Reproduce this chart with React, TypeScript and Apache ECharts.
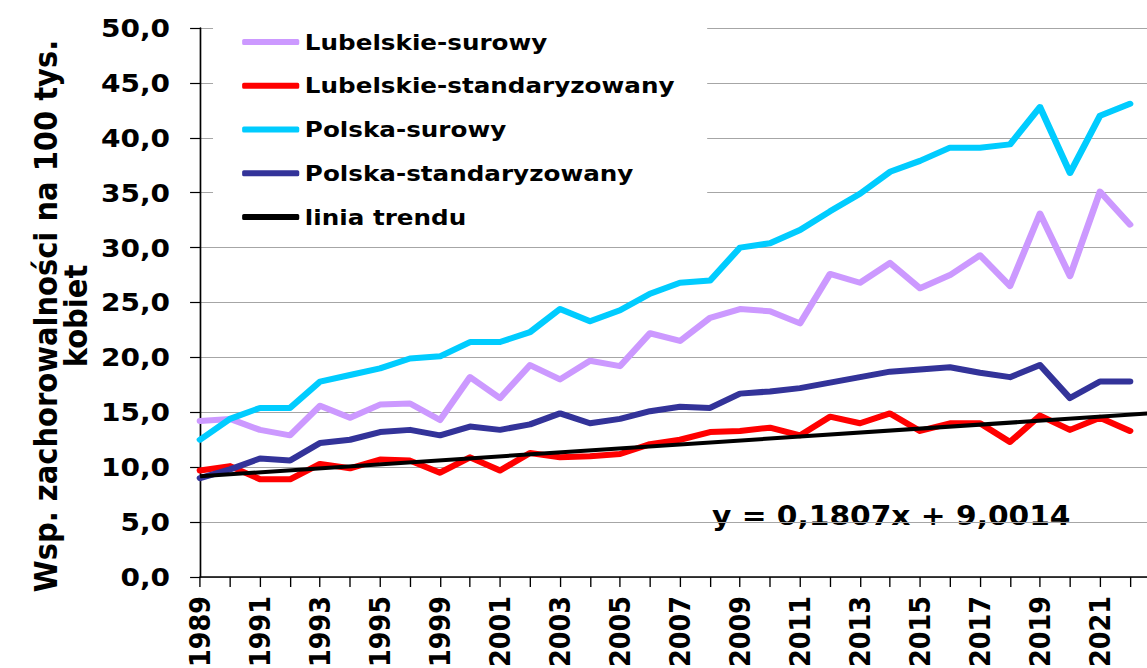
import React, { useEffect, useRef } from "react";
import * as echarts from "echarts";

// ---- data ----
const years = [
  "1989", "1990", "1991", "1992", "1993", "1994", "1995", "1996",
  "1999", "2000", "2001", "2002", "2003", "2004", "2005", "2006",
  "2007", "2008", "2009", "2010", "2011", "2012", "2013", "2014",
  "2015", "2016", "2017", "2018", "2019", "2020", "2021", "2022", "",
];
const lubelskieSurowy = [
  14.2, 14.4, 13.4, 12.9, 15.6, 14.5, 15.7, 15.8,
  14.3, 18.2, 16.3, 19.3, 18.0, 19.7, 19.2, 22.2,
  21.5, 23.6, 24.4, 24.2, 23.1, 27.6, 26.8, 28.6,
  26.3, 27.5, 29.3, 26.5, 33.1, 27.4, 35.1, 32.1,
];
const lubelskieStand = [
  9.7, 10.1, 8.9, 8.9, 10.3, 9.9, 10.7, 10.6,
  9.5, 10.9, 9.7, 11.3, 10.9, 11.0, 11.2, 12.1,
  12.5, 13.2, 13.3, 13.6, 12.9, 14.6, 14.0, 14.9,
  13.3, 14.0, 14.0, 12.3, 14.7, 13.4, 14.5, 13.3,
];
const polskaSurowy = [
  12.5, 14.4, 15.4, 15.4, 17.8, 18.4, 19.0, 19.9,
  20.1, 21.4, 21.4, 22.3, 24.4, 23.3, 24.3, 25.8,
  26.8, 27.0, 30.0, 30.4, 31.6, 33.3, 34.9, 36.9,
  37.9, 39.1, 39.1, 39.4, 42.8, 36.8, 42.0, 43.1,
];
const polskaStand = [
  9.0, 9.8, 10.8, 10.6, 12.2, 12.5, 13.2, 13.4,
  12.9, 13.7, 13.4, 13.9, 14.9, 14.0, 14.4, 15.1,
  15.5, 15.4, 16.7, 16.9, 17.2, 17.7, 18.2, 18.7,
  18.9, 19.1, 18.6, 18.2, 19.3, 16.3, 17.8, 17.8,
];
// linear trend y = 0,1807x + 9,0014 : values at the first and last axis slot
const trendEnds = [9.18, 14.96];
const equationText = "y = 0,1807x + 9,0014";
const yTitle = "Wsp. zachorowalności na 100 tys.\nkobiet";
const seriesNames = [
  "Lubelskie-surowy",
  "Lubelskie-standaryzowany",
  "Polska-surowy",
  "Polska-standaryzowany",
  "linia trendu",
];

const SX = 1.12;
const W = 1050;
const H = 668;
const FONT = "'DejaVu Sans', Verdana, sans-serif";

export default function App() {
  const ref = useRef<HTMLDivElement>(null);

  useEffect(() => {
    if (!ref.current) return;
    const chart = echarts.init(ref.current, null, { renderer: "svg", width: W, height: H });

    const trendData: (number | null)[] = years.map(() => null);
    trendData[0] = trendEnds[0];
    trendData[years.length - 1] = trendEnds[1];

    const lineSeries = (name: string, data: number[], color: string, width: number) => ({
      name,
      type: "line",
      data,
      symbol: "none",
      showSymbol: false,
      lineStyle: { color, width, cap: "round", join: "round" },
      itemStyle: { color },
      z: 3,
    });

    chart.setOption({
      animation: false,
      backgroundColor: "#ffffff",
      textStyle: { fontFamily: FONT },
      grid: {
        left: 178.6,
        right: 14.3,
        top: 28,
        bottom: 91,
        containLabel: false,
        outerBoundsMode: "none",
      },
      legend: {
        orient: "vertical",
        left: 190.2,
        top: 15,
        padding: [16, 29, 12, 26],
        backgroundColor: "#ffffff",
        icon: "roundRect",
        itemWidth: 51,
        itemHeight: 6,
        itemGap: 21.75,
        data: seriesNames,
        textStyle: { fontFamily: FONT, fontSize: 22, fontWeight: "bold", color: "#000" },
        z: 10,
      },
      xAxis: {
        type: "category",
        data: years,
        boundaryGap: false,
        axisLine: { lineStyle: { color: "#000", width: 1.5 } },
        axisTick: { show: true, interval: 0, length: 10, lineStyle: { color: "#000", width: 1.2 } },
        axisLabel: {
          interval: 1,
          rotate: 90,
          margin: 19,
          fontFamily: FONT,
          fontSize: 25.5,
          fontWeight: "bold",
          color: "#000",
        },
        splitLine: { show: false },
      },
      yAxis: {
        type: "value",
        min: 0,
        max: 50,
        interval: 5,
        axisLine: { show: true, lineStyle: { color: "#000", width: 1.5 } },
        axisTick: { show: true, length: 8.9, lineStyle: { color: "#000", width: 1.2 } },
        axisLabel: {
          margin: 26.8,
          fontFamily: FONT,
          fontSize: 25,
          fontWeight: "bold",
          color: "#000",
          formatter: (v: number) => v.toFixed(1).replace(".", ","),
        },
        splitLine: { show: true, lineStyle: { color: "#a6a6a6", width: 1.2 } },
      },
      graphic: [
        {
          type: "text",
          x: 53.6,
          y: 316,
          rotation: Math.PI / 2,
          style: {
            text: yTitle,
            fontFamily: FONT,
            fontSize: 29,
            fontWeight: "bold",
            fill: "#000",
            align: "center",
            verticalAlign: "middle",
            lineHeight: 26.8,
          },
        },
        {
          type: "text",
          x: 635.7,
          y: 516,
          style: {
            text: equationText,
            fontFamily: FONT,
            fontSize: 26.5,
            fontWeight: "bold",
            fill: "#000",
            align: "left",
            verticalAlign: "middle",
          },
        },
      ],
      series: [
        lineSeries(seriesNames[0], lubelskieSurowy, "#cc99ff", 6),
        lineSeries(seriesNames[1], lubelskieStand, "#ff0000", 6),
        lineSeries(seriesNames[2], polskaSurowy, "#00ccff", 6),
        lineSeries(seriesNames[3], polskaStand, "#333399", 6),
        {
          name: seriesNames[4],
          type: "line",
          data: trendData,
          connectNulls: true,
          symbol: "none",
          showSymbol: false,
          lineStyle: { color: "#000", width: 4 },
          itemStyle: { color: "#000" },
          z: 4,
        },
      ],
    });

    return () => chart.dispose();
  }, []);

  return (
    <div
      style={{
        position: "fixed",
        left: 0,
        top: 0,
        width: 1147,
        height: 668,
        overflow: "hidden",
        background: "#fff",
      }}
    >
      <div
        ref={ref}
        style={{ width: W, height: H, transform: `scaleX(${SX})`, transformOrigin: "0 0" }}
      />
    </div>
  );
}
